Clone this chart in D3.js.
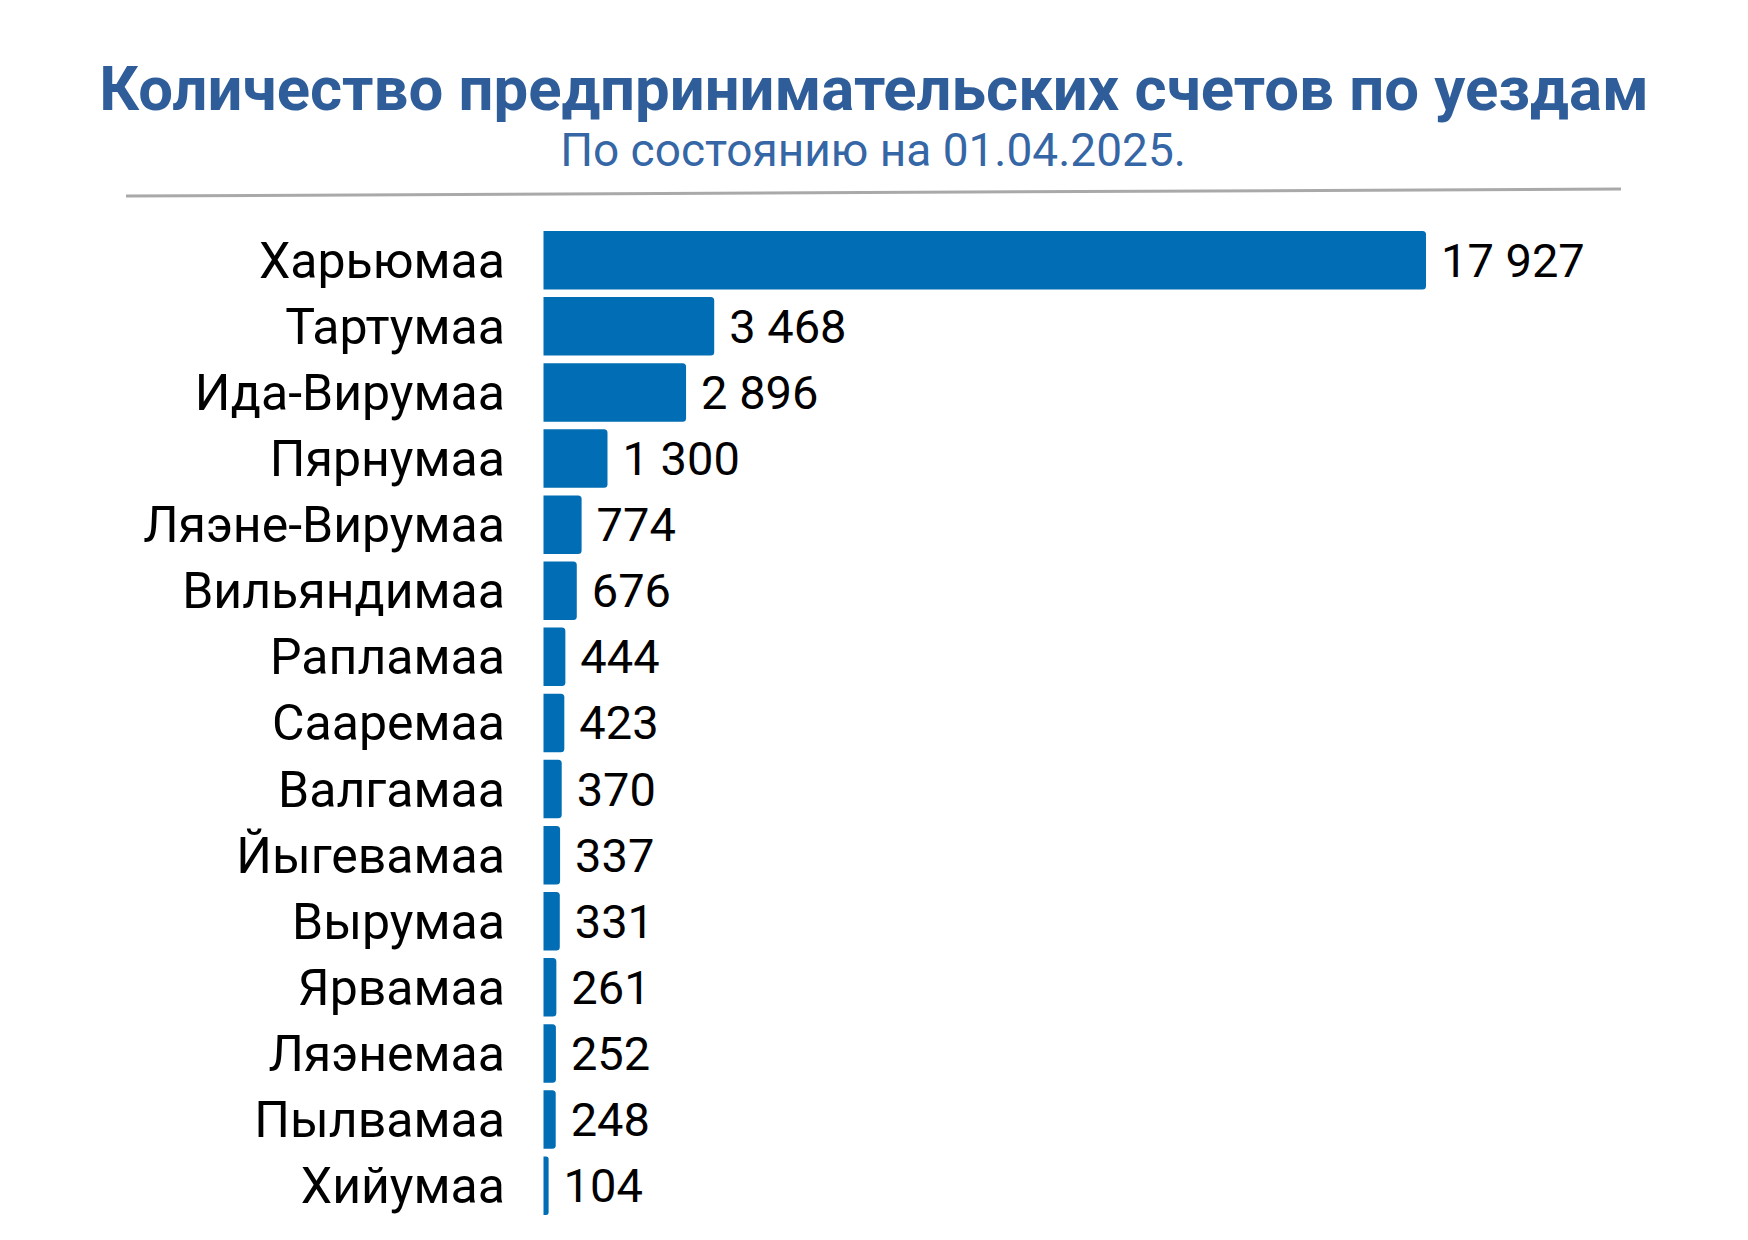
<!DOCTYPE html>
<html>
<head>
<meta charset="utf-8">
<script src="https://cdn.jsdelivr.net/npm/d3@7"></script>
<style>
  body { margin: 0; background: #fff; }
  svg { display: block; }
</style>
</head>
<body>
<div id="chart"></div>
<script>
var counties = ["Харьюмаа", "Тартумаа", "Ида-Вирумаа", "Пярнумаа", "Ляэне-Вирумаа", "Вильяндимаа",
    "Рапламаа", "Сааремаа", "Валгамаа", "Йыгевамаа", "Вырумаа", "Ярвамаа", "Ляэнемаа", "Пылвамаа", "Хийумаа"];
var accounts = [17927, 3468, 2896, 1300, 774, 676, 444, 423, 370, 337, 331, 261, 252, 248, 104];
var title = "Количество предпринимательских счетов по уездам";
var subtitle = "По состоянию на 01.04.2025.";

var width = 1748;
var height = 1240;
var barColor = "#006db4";
var titleColor = "#2e5d99";

var data = counties.map((name, i) => ({name: name, value: accounts[i]}));

var locale = d3.formatLocale({decimal: ",", thousands: " ", grouping: [3], currency: ["", ""]});
var formatNumber = locale.format(",d");

var x = d3.scaleLinear()
    .domain([0, d3.max(accounts)])
    .range([543.5, 1426]);

var y = d3.scaleBand()
    .domain(counties)
    .range([227.2, 1218.7])
    .paddingInner(0.115)
    .paddingOuter(0.0575);

var svg = d3.select("#chart").append("svg")
    .attr("width", width)
    .attr("height", height)
    .attr("viewBox", [0, 0, width, height])
    .style("font-family", "Roboto, sans-serif");

// heading
svg.append("text")
    .attr("x", 874)
    .attr("y", 110)
    .attr("text-anchor", "middle")
    .attr("fill", titleColor)
    .style("font-weight", "bold")
    .style("font-size", "61.7px")
    .text(title);

svg.append("text")
    .attr("x", 873)
    .attr("y", 166)
    .attr("text-anchor", "middle")
    .attr("fill", "#3566a6")
    .style("font-size", "46px")
    .text(subtitle);

// slightly tilted rule under the heading
svg.append("line")
    .attr("x1", 126).attr("y1", 196)
    .attr("x2", 1621).attr("y2", 189)
    .attr("stroke", "#a9a9a9")
    .attr("stroke-width", 3);

// bars: square on the left, rounded on the right
function barPath(d) {
    var x0 = x(0), x1 = x(d.value), y0 = y(d.name), h = y.bandwidth();
    var r = Math.min(3.5, (x1 - x0) / 2);
    return `M${x0},${y0}H${x1 - r}Q${x1},${y0} ${x1},${y0 + r}V${y0 + h - r}Q${x1},${y0 + h} ${x1 - r},${y0 + h}H${x0}Z`;
}

svg.append("g")
    .selectAll("path")
    .data(data)
    .join("path")
    .attr("d", barPath)
    .attr("fill", barColor);

svg.append("g")
    .style("font-size", "47px")
    .attr("fill", "#000")
    .selectAll("text")
    .data(data)
    .join("text")
    .attr("x", d => x(d.value) + 15)
    .attr("y", d => y(d.name) + y.bandwidth() / 2)
    .attr("dy", "0.35em")
    .text(d => formatNumber(d.value));

svg.append("g")
    .style("font-size", "50px")
    .attr("fill", "#000")
    .attr("text-anchor", "end")
    .selectAll("text")
    .data(data)
    .join("text")
    .attr("x", 505)
    .attr("y", d => y(d.name) + y.bandwidth() / 2)
    .attr("dy", "0.35em")
    .text(d => d.name);
</script>
</body>
</html>
